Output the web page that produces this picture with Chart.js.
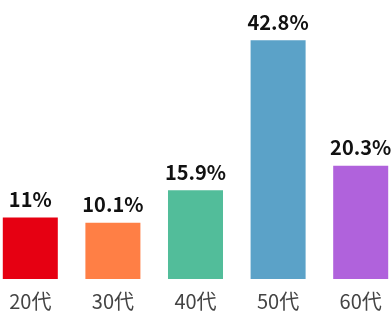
<html>
<head>
<style>
  body { margin: 0; overflow: hidden; background: #fff; }
  #wrap { position: absolute; left: -11px; top: 0; width: 413px; height: 315px; }
</style>
</head>
<body>
<div id="wrap"><canvas id="chart"></canvas></div>
<script src="https://cdn.jsdelivr.net/npm/chart.js@4/dist/chart.umd.min.js"></script>
<script>
  // age groups and share (%)
  const ageGroups = ['20代', '30代', '40代', '50代', '60代'];
  const shares = [11, 10.1, 15.9, 42.8, 20.3];
  const barColors = ['#e60012', '#ff7f45', '#52bd9a', '#5ba2c8', '#b062dc'];

  // draws the value above each bar
  const valueLabels = {
    id: 'valueLabels',
    afterDatasetsDraw(chart) {
      const ctx = chart.ctx;
      ctx.save();
      ctx.font = 'bold 20px "Noto Sans CJK JP"';
      ctx.fillStyle = '#111';
      ctx.textAlign = 'center';
      ctx.textBaseline = 'bottom';
      chart.getDatasetMeta(0).data.forEach((bar, i) => {
        ctx.fillText(shares[i] + '%', bar.x, bar.y - 8);
      });
      ctx.restore();
    }
  };

  new Chart(document.getElementById('chart'), {
    type: 'bar',
    data: {
      labels: ageGroups,
      datasets: [{
        data: shares,
        backgroundColor: barColors,
        barPercentage: 0.666,
        categoryPercentage: 1
      }]
    },
    options: {
      responsive: true,
      maintainAspectRatio: false,
      animation: false,
      layout: { padding: 0 },
      plugins: { legend: { display: false }, tooltip: { enabled: false } },
      scales: {
        x: {
          grid: { display: false },
          border: { display: false },
          ticks: { color: '#444', padding: 2, font: { family: '"Noto Sans CJK JP"', size: 20 } }
        },
        y: { display: false, min: 0, max: 50 }
      }
    },
    plugins: [valueLabels]
  });
</script>
</body>
</html>
